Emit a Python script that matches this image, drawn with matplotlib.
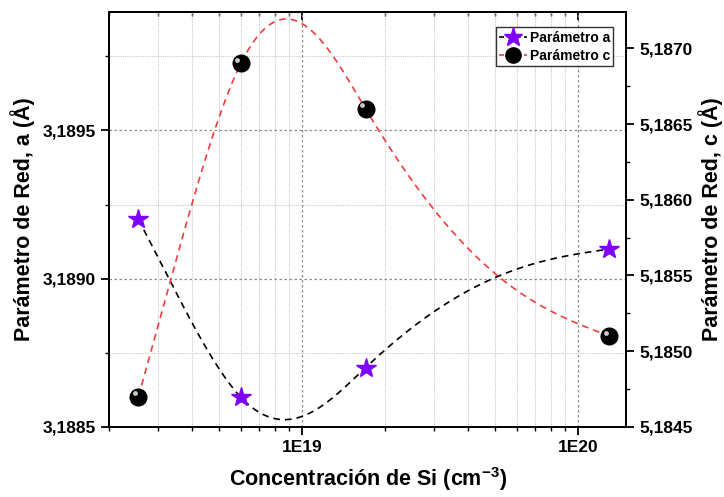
import numpy as np
import matplotlib.pyplot as plt
from matplotlib.ticker import FuncFormatter, MultipleLocator, LogLocator, NullFormatter
from matplotlib.transforms import offset_copy

plt.rcParams['font.family'] = 'Liberation Sans'
plt.rcParams['font.weight'] = 'bold'
plt.rcParams['mathtext.fontset'] = 'custom'
plt.rcParams['mathtext.bf'] = 'Liberation Sans:bold'
plt.rcParams['mathtext.rm'] = 'Liberation Sans:bold'

# data
si_conc = [2.55e18, 6.0e18, 1.7e19, 1.3e20]
param_a = [3.1892, 3.1886, 3.1887, 3.1891]
param_c = [5.1847, 5.1869, 5.1866, 5.1851]


def nat_spline(t, y, tt):
    k = len(t)
    h = np.diff(t)
    A = np.zeros((k, k))
    r = np.zeros(k)
    A[0, 0] = A[-1, -1] = 1
    for i in range(1, k - 1):
        A[i, i - 1] = h[i - 1]
        A[i, i] = 2 * (h[i - 1] + h[i])
        A[i, i + 1] = h[i]
        r[i] = 6 * ((y[i + 1] - y[i]) / h[i] - (y[i] - y[i - 1]) / h[i - 1])
    m = np.linalg.solve(A, r)
    idx = np.clip(np.searchsorted(t, tt) - 1, 0, k - 2)
    t0 = t[idx + 1] - tt
    t1 = tt - t[idx]
    hi = h[idx]
    return (m[idx] * t0 ** 3 + m[idx + 1] * t1 ** 3) / (6 * hi) \
        + (y[idx] / hi - m[idx] * hi / 6) * t0 + (y[idx + 1] / hi - m[idx + 1] * hi / 6) * t1


def smooth(x, y, p=0.25, n=400):
    # natural cubic spline in x**p
    v = (np.asarray(x) / 1e18) ** p
    vv = np.linspace(v[0], v[-1], n)
    return vv ** (1 / p) * 1e18, nat_spline(v, np.asarray(y, float), vv)


def comma(v, pos):
    return ('%.4f' % v).replace('.', ',')


fig, ax = plt.subplots(figsize=(7.24, 4.97), dpi=100)
fig.subplots_adjust(left=0.151, right=0.865, top=0.976, bottom=0.141)
ax2 = ax.twinx()

xa, ya = smooth(si_conc, param_a)
xc, yc = smooth(si_conc, param_c)

ax.plot(xa, ya, color='black', ls=(0, (4, 3)), lw=1.2)
ax.plot(si_conc, param_a, ls='none', marker='*', ms=15, color='#7f00ff', zorder=5)
ax2.plot(xc, yc, color='#f03c3c', ls=(0, (4, 3)), lw=1.2)
ax2.plot(si_conc, param_c, ls='none', marker='o', ms=12, color='black', zorder=5)
hl = offset_copy(ax2.transData, fig=fig, x=-2.5, y=2.5, units='points')
ax2.plot(si_conc, param_c, ls='none', marker='o', ms=3.5, color='#c8c8c8',
         mec='none', transform=hl, zorder=6)

ax.set_xscale('log')
ax.set_xlim(2.0e18, 1.5e20)
ax.set_ylim(3.1885, 3.1899)
ax2.set_ylim(5.1845, 5.18724)

ax.xaxis.set_major_locator(LogLocator(base=10, numticks=5))
ax.xaxis.set_minor_locator(LogLocator(base=10, subs=np.arange(2, 10), numticks=20))
ax.xaxis.set_minor_formatter(NullFormatter())
ax.xaxis.set_major_formatter(FuncFormatter(lambda v, p: '1E%d' % round(np.log10(v))))

ax.yaxis.set_major_locator(MultipleLocator(0.0005))
ax.yaxis.set_minor_locator(MultipleLocator(0.00025))
ax.yaxis.set_major_formatter(FuncFormatter(comma))
ax2.yaxis.set_major_locator(MultipleLocator(0.0005))
ax2.yaxis.set_minor_locator(MultipleLocator(0.00025))
ax2.yaxis.set_major_formatter(FuncFormatter(comma))

ax.grid(which='major', color='#8c8c8c', ls=(0, (2, 2)), lw=0.9)
ax.grid(which='minor', color='#c8c8c8', ls=(0, (1, 1)), lw=0.8)

ax.tick_params(axis='both', which='major', direction='out', length=6, width=1.3, labelsize=12.5)
ax.tick_params(axis='both', which='minor', direction='out', length=3, width=1.0)
ax2.tick_params(axis='y', which='major', direction='out', length=6, width=1.3, labelsize=12.5)
ax2.tick_params(axis='y', which='minor', direction='out', length=3, width=1.0)

top = ax.secondary_xaxis('top')
top.set_xscale('log')
top.xaxis.set_major_locator(LogLocator(base=10, numticks=5))
top.xaxis.set_minor_locator(LogLocator(base=10, subs=np.arange(2, 10), numticks=20))
top.xaxis.set_major_formatter(NullFormatter())
top.xaxis.set_minor_formatter(NullFormatter())
top.tick_params(which='major', direction='in', length=6, width=1.3)
top.tick_params(which='minor', direction='in', length=3, width=1.0)

for a in (ax, ax2, top):
    for s in a.spines.values():
        s.set_linewidth(1.3)

ax.set_xlabel('Concentración de Si (cm$^{-3}$)', fontsize=15.5, fontweight='bold', labelpad=7)
ax.set_ylabel('Parámetro de Red, a (Å)', fontsize=15.5, fontweight='bold', labelpad=6)
ax2.set_ylabel('Parámetro de Red, c (Å)', fontsize=15.5, fontweight='bold', labelpad=4)

h1 = plt.Line2D([], [], color='black', ls=(0, (3, 2)), lw=1.2, marker='*', ms=14,
                mfc='#7f00ff', mec='#7f00ff')
h2 = plt.Line2D([], [], color='#f03c3c', ls=(0, (3, 2)), lw=1.2, marker='o', ms=11,
                mfc='black', mec='black')
leg = ax2.legend([h1, h2], ['Parámetro a', 'Parámetro c'], loc='upper right',
                 bbox_to_anchor=(0.975, 0.963), fontsize=10, frameon=True, fancybox=False,
                 edgecolor='black', handlelength=2.0, handletextpad=0.2,
                 borderpad=0.25, labelspacing=0.3, borderaxespad=0)
leg.get_frame().set_linewidth(1.0)

fig.savefig('out.png', dpi=100)
